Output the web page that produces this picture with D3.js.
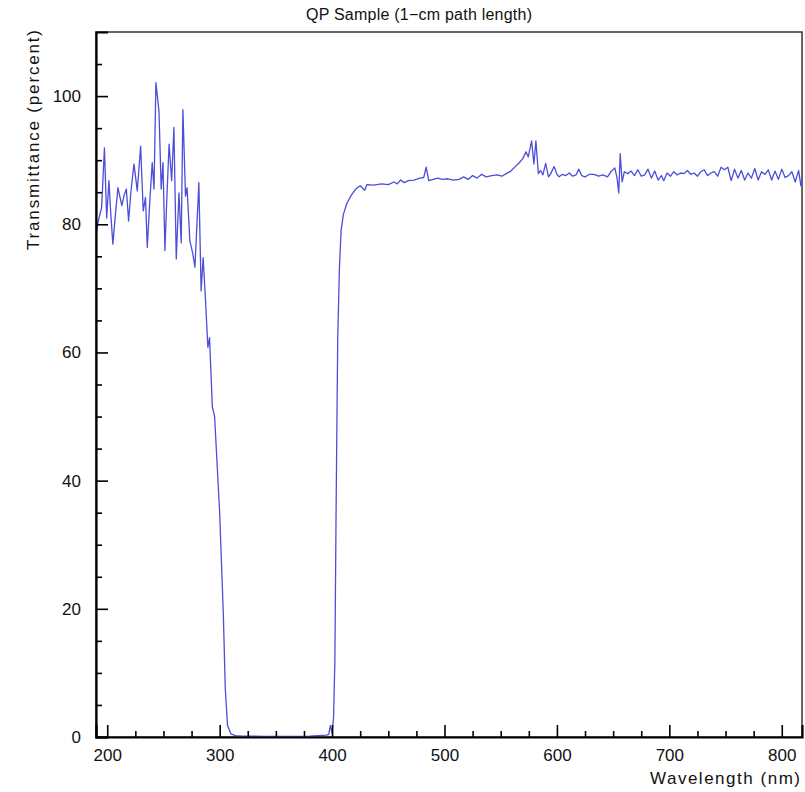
<!DOCTYPE html>
<html>
<head>
<meta charset="utf-8">
<script src="https://cdn.jsdelivr.net/npm/d3@7"></script>
<style>
  body { margin: 0; background: #fff; }
  svg text { font-family: "Liberation Sans", Arial, sans-serif; fill: #111; }
</style>
</head>
<body>
<div id="chart"></div>
<script>
// wavelength (nm) and transmittance (%)
let wavelength = [
  190, 192, 195, 197.5, 199.5, 201.5, 203, 205, 207, 209.5, 211, 213, 215, 217, 219, 221,
  223.8, 226.7, 229.7, 232, 234, 235.6, 238, 240, 241.6, 243.3, 246, 248, 249.6, 251.3, 253,
  255, 257.3, 259.3, 261.4, 263.8, 265.8, 267.3, 269.6, 271, 273.5, 276, 278, 281.5, 283.5,
  285.3, 287.3, 289.5, 291, 293.5, 295.5, 300, 303.3, 305, 307, 310, 314, 320, 340, 360,
  380, 395, 397, 398.5, 400, 401.3, 402.5, 403.5, 405, 406.5, 408, 410, 413, 417, 421,
  425, 429, 431, 437, 444, 450, 455, 458, 461, 464, 468, 473, 478, 481.5, 483.7, 486, 490,
  494, 498, 503, 508, 513, 517, 521, 525, 529, 533, 537, 542, 547, 551, 555, 559, 563,
  566.5, 569.5, 572.5, 574.5, 577.5, 579.5, 581.3, 583.5, 585.5, 587.5, 590, 592.5, 594.5,
  597.5, 600, 602, 605, 608, 611, 614, 617, 619.5, 622, 625, 629, 633, 637, 641, 645, 648,
  651.5, 653.5, 655, 656.3, 658, 660, 663, 666, 669, 672, 675, 678, 681, 684, 687, 690,
  693, 695, 698, 701, 704, 707, 710, 713, 716, 719, 722, 725, 728, 731, 734, 737, 740,
  743, 746, 749, 752, 755, 758, 761, 764, 767, 770, 773, 776, 779, 782, 785, 788, 791,
  794, 797, 800, 803, 806, 809, 812, 815, 817, 818
];
let transmittance = [
  78.4, 80.5, 82.6, 91.9, 81.0, 86.8, 82.0, 76.9, 81.0, 85.7, 84.5, 82.9, 84.5, 85.5, 80.5, 85.0,
  89.4, 85.2, 92.2, 82.1, 84.2, 76.4, 84.0, 89.6, 85.5, 102.1, 97.7, 85.5, 89.6, 75.9, 84.0,
  92.5, 86.8, 95.1, 74.6, 84.9, 77.1, 97.9, 84.4, 85.7, 77.4, 75.5, 73.3, 86.5, 69.6,
  74.8, 68.5, 60.8, 62.3, 51.5, 50.0, 35.0, 19.0, 7.5, 1.8, 0.5, 0.2, 0.15, 0.1, 0.1,
  0.15, 0.3, 0.4, 1.8, 0.6, 3.0, 12, 34, 62, 73, 79, 81.5, 83.2, 84.5, 85.5,
  86.0, 85.3, 86.2, 86.1, 86.3, 86.2, 86.6, 86.3, 86.9, 86.5, 86.8, 86.9, 87.2, 87.3, 88.9, 86.8, 87.0,
  87.2, 87.0, 87.1, 86.9, 87.0, 87.4, 87.0, 87.6, 87.2, 87.8, 87.4, 87.6, 87.7, 87.5, 87.9, 88.3, 89.0,
  89.6, 90.2, 91.3, 90.5, 93.0, 89.4, 93.0, 87.9, 88.4, 87.7, 89.5, 87.4, 87.9,
  89.0, 87.8, 87.4, 87.8, 87.6, 88.0, 87.5, 87.7, 88.6, 87.6, 87.4, 87.8, 87.8, 87.5, 87.7, 87.4, 88.2,
  88.8, 87.2, 84.9, 91.0, 86.6, 88.2, 87.9, 88.3, 87.6, 88.5, 87.5, 87.7, 88.6, 87.2, 88.3, 86.9,
  87.6, 86.8, 88.0, 87.5, 88.2, 87.7, 88.0, 87.9, 88.4, 87.8, 88.0, 87.5, 88.2, 88.5, 87.6, 88.0, 88.2,
  87.5, 88.9, 88.5, 88.9, 86.8, 88.6, 87.2, 88.4, 86.9, 88.0, 87.2, 88.7, 86.9, 88.2, 87.8, 88.5, 86.9,
  88.3, 87.0, 88.6, 87.3, 87.6, 88.2, 86.6, 88.4, 86.0, 87.0
];

let xMajor = [200, 300, 400, 500, 600, 700, 800];
let xMinor = [225, 250, 275, 325, 350, 375, 425, 450, 475, 525, 550, 575, 625, 650, 675, 725, 750, 775];
let yMajor = [0, 20, 40, 60, 80, 100];
let yMinor = [5, 10, 15, 25, 30, 35, 45, 50, 55, 65, 70, 75, 85, 90, 95, 105];

let width = 805, height = 792;
let margin = {top: 32, right: 3, bottom: 55, left: 96};
let w = width - margin.left - margin.right,
    h = height - margin.top - margin.bottom;

let x = d3.scaleLinear().domain([190, 818]).range([0, w]);
let y = d3.scaleLinear().domain([0, 110]).range([h, 0]);

let svg = d3.select("#chart").append("svg")
    .attr("width", width)
    .attr("height", height);

svg.append("text")
    .attr("x", 419).attr("y", 20)
    .attr("text-anchor", "middle")
    .attr("textLength", 226)
    .style("font-size", "16px")
    .text("QP Sample (1\u2212cm path length)");

let g = svg.append("g").attr("transform", `translate(${margin.left},${margin.top})`);

g.append("clipPath").attr("id", "clip")
  .append("rect").attr("width", w).attr("height", h);

// frame (top / right)
g.append("rect")
    .attr("width", w).attr("height", h)
    .attr("fill", "none")
    .attr("stroke", "#333")
    .attr("stroke-width", 1.5);

let pts = wavelength.map((d, i) => [d, transmittance[i]]);
let line = d3.line().x(d => x(d[0])).y(d => y(d[1]));

g.append("path")
    .datum(pts)
    .attr("clip-path", "url(#clip)")
    .attr("d", line)
    .attr("fill", "none")
    .attr("stroke", "#4d4dd8")
    .attr("stroke-width", 1.3)
    .attr("stroke-linejoin", "round");

// axes, ticks drawn inward like the original
let xAxis = g.append("g").attr("transform", `translate(0,${h})`)
    .call(d3.axisBottom(x).tickValues(xMajor).tickSize(-12).tickPadding(10));
g.append("g").attr("transform", `translate(0,${h})`)
    .call(d3.axisBottom(x).tickValues(xMinor).tickSize(-6).tickFormat(""))
    .select(".domain").remove();

let yAxis = g.append("g")
    .call(d3.axisLeft(y).tickValues(yMajor).tickSize(-12).tickPadding(15));
g.append("g")
    .call(d3.axisLeft(y).tickValues(yMinor).tickSize(-6).tickFormat(""))
    .select(".domain").remove();

g.selectAll(".domain").attr("stroke", "#000").attr("stroke-width", 2.2);
g.selectAll(".tick line").attr("stroke", "#000").attr("stroke-width", 1.6);
xAxis.selectAll("text").style("font-size", "17px").attr("dy", "0.8em");
yAxis.selectAll("text").style("font-size", "17px");

svg.append("text")
    .attr("x", 800).attr("y", 784)
    .attr("text-anchor", "end")
    .attr("textLength", 150)
    .style("font-size", "17px")
    .text("Wavelength (nm)");

svg.append("text")
    .attr("transform", "translate(39,30) rotate(-90)")
    .attr("text-anchor", "end")
    .attr("textLength", 220)
    .style("font-size", "17px")
    .text("Transmittance (percent)");
</script>
</body>
</html>
